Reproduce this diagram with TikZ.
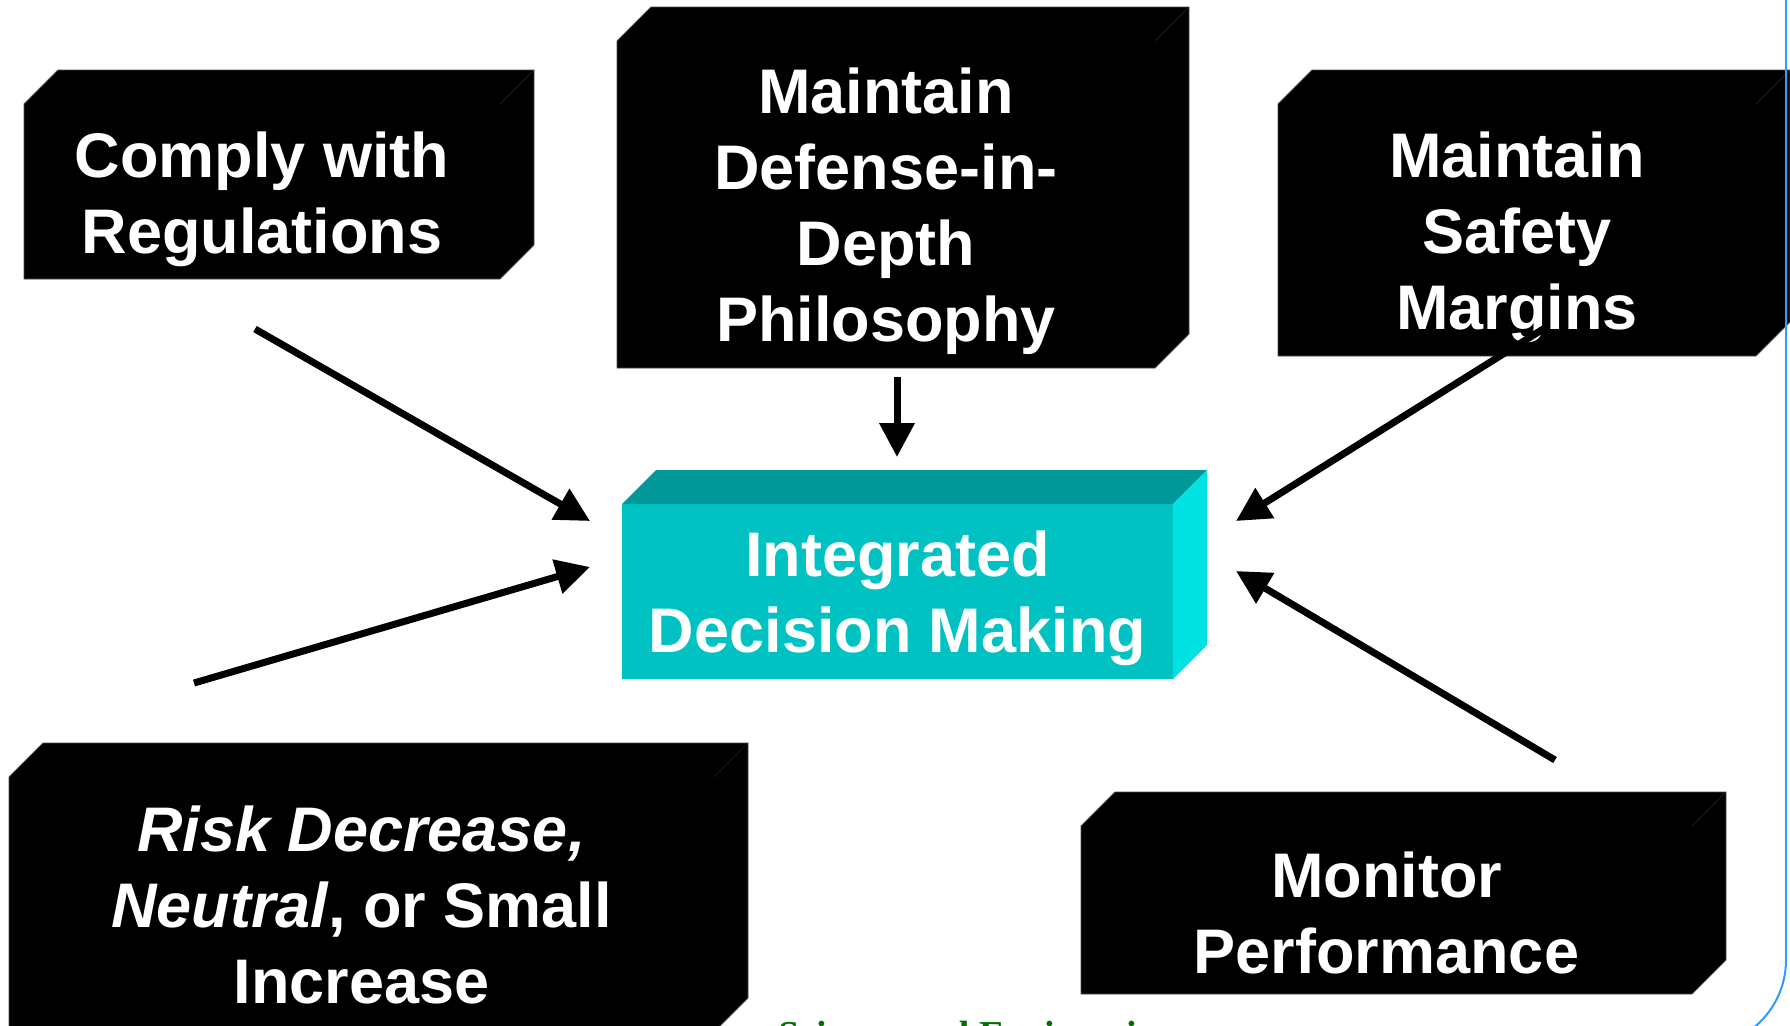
\documentclass[tikz,border=0pt]{standalone}
\usepackage{fontspec}
\setmainfont{Liberation Sans}
\newfontfamily\footerFont{Liberation Serif}
\usepackage{tikz}
\usetikzlibrary{arrows.meta}
\tikzstyle{slide} = [x = 0.5pt, y = -0.5pt]
\definecolor{cubeFront}{RGB}{0,194,194}
\definecolor{cubeTop}{RGB}{0,152,152}
\definecolor{cubeSide}{RGB}{0,226,226}
\definecolor{frameBlue}{RGB}{51,153,255}
\definecolor{footerGreen}{RGB}{0,110,0}
\tikzstyle{blackFace} = [fill=black, draw=black!70, line width=0.4pt]
\tikzstyle{cubeText} = [text=white, align=center, inner sep=0pt, font=\bfseries\fontsize{31.5}{38}\selectfont]
\tikzstyle{bigArrow} = [line width=3.5pt, -{Triangle[length=17pt, width=17pt]}]
\newcommand{\depth}{34}
% front face from (#2,#3) to (#4,#5), depth goes up-right, #7 = text drop
\newcommand{\blackCube}[7]{
  \filldraw [blackFace] (#2,#3) -- ++(\depth,-\depth) -- (#4+\depth,#3-\depth) -- (#4+\depth,#5-\depth) -- (#4,#5) -- (#2,#5) -- cycle;
  \draw [black!85, line width=0.3pt] (#4,#3) -- ++(\depth,-\depth);
  \node [cubeText] (#1) at ({(#2+#4)/2},{(#3+#5)/2+#7}) {#6};
}
\newcommand{\cyanCube}[7]{
  \fill [cubeFront] (#2,#3) rectangle (#4,#5);
  \fill [cubeTop] (#2,#3) -- ++(\depth,-\depth) -- (#4+\depth,#3-\depth) -- (#4,#3) -- cycle;
  \fill [cubeSide] (#4,#3) -- (#4+\depth,#3-\depth) -- (#4+\depth,#5-\depth) -- (#4,#5) -- cycle;
  \node [cubeText] (#1) at ({(#2+#4)/2},{(#3+#5)/2+#7}) {#6};
}

\begin{document}
\begin{tikzpicture}[slide]
  \useasboundingbox (0,0) rectangle (1790,1025);

  % footer, mostly hidden
  \node [anchor=base west, inner sep=0pt, text=footerGreen, font=\footerFont\bfseries\fontsize{19}{23}\selectfont] (footer) at (640,1047) {Nuclear Science and Engineering};

  \blackCube{comply}{24}{104}{500}{279}{Comply with\\Regulations}{8}
  \blackCube{defense}{617}{41}{1155}{368}{Maintain\\Defense-in-\\Depth\\Philosophy}{7}
  \blackCube{margins}{1278}{104}{1756}{356}{Maintain\\Safety\\Margins}{7}
  \blackCube{risk}{9}{777}{714}{1032}{\textit{Risk Decrease,}\\\textit{Neutral}, or Small\\Increase}{0}
  \blackCube{monitor}{1081}{826}{1692}{994}{Monitor\\Performance}{3}
  \cyanCube{decision}{622}{504}{1173}{679}{Integrated\\Decision Making}{7}

  % arrows into the decision box
  \coordinate (complyTail) at (255,329);
  \coordinate (complyHead) at (590,521);
  \coordinate (defenseTail) at (897,377);
  \coordinate (defenseHead) at (897,457);
  \coordinate (marginsTail) at (1548,326);
  \coordinate (marginsHead) at (1236,521);
  \coordinate (riskTail) at (194,683);
  \coordinate (riskHead) at (590,567);
  \coordinate (monitorTail) at (1555,760);
  \coordinate (monitorHead) at (1236,571);
  \draw [bigArrow] (complyTail) -- (complyHead);
  \draw [bigArrow] (defenseTail) -- (defenseHead);
  \draw [bigArrow] (marginsTail) -- (marginsHead);
  \draw [bigArrow] (riskTail) -- (riskHead);
  \draw [bigArrow] (monitorTail) -- (monitorHead);

  % slide frame
  \draw [frameBlue, line width=1pt, rounded corners=43.5pt] (1786,-20) |- (1500,1047);
\end{tikzpicture}
\end{document}
